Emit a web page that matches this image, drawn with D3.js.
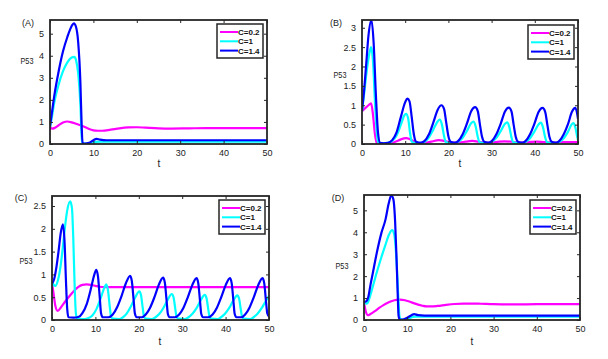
<!DOCTYPE html>
<html>
<head>
<meta charset="utf-8">
<script src="https://cdn.jsdelivr.net/npm/d3@7"></script>
<style>
  body { margin: 0; background: #fff; }
  svg { font-family: "Liberation Sans", Arial, sans-serif; }
  .tick-label { font-size: 9px; fill: #222; }
  .axis-title { font-size: 10px; fill: #222; }
  .legend-text { font-size: 8px; font-weight: bold; fill: #111; }
</style>
</head>
<body>
<svg id="chart" width="608" height="359"></svg>
<script>
// Chart values
const xTicks = [0, 10, 20, 30, 40, 50];
const legendLabels = ['C=0.2', 'C=1', 'C=1.4'];
const panelNames = ['(A)', '(B)', '(C)', '(D)'];
const yTicksA = [0, 1, 2, 3, 4, 5];
const yTicksB = [0, 0.5, 1, 1.5, 2, 2.5, 3];
const yTicksC = [0, 0.5, 1, 1.5, 2, 2.5];
const yTicksD = [0, 1, 2, 3, 4, 5];
const yMaxes = [5.62, 3.2, 2.72, 5.7];

// Panel A
const aMagenta = [[0,0.78],[0.5,0.7],[1,0.72],[2,0.85],[3,0.97],[4,1.02],[5,0.98],[6,0.92],[7,0.85],[8,0.77],[9,0.68],[10,0.62],[11,0.6],[12,0.6],[14,0.65],[16,0.71],[18,0.75],[20,0.76],[22,0.74],[25,0.71],[28,0.7],[32,0.71],[36,0.72],[40,0.72],[50,0.72]];
const aCyan = [[0,0.75],[0.5,1.3],[1,1.9],[2,2.7],[3,3.3],[4,3.7],[5,3.92],[5.6,3.95],[6,3.8],[6.5,3.2],[7,1.8],[7.3,0.3],[7.5,0.02],[8.5,0.02],[9.5,0.06],[10.5,0.1],[12,0.11],[50,0.11]];
const aBlue = [[0,0.8],[0.5,1.5],[1,2.2],[2,3.3],[3,4.2],[4,4.85],[5,5.35],[5.5,5.47],[6,5.3],[6.5,4.6],[7,2.8],[7.3,0.8],[7.5,0.05],[8,0.02],[9,0.05],[10,0.17],[10.7,0.23],[11.5,0.2],[13,0.17],[50,0.17]];

// Panel B
const bMagenta = [[0,0.85],[0.5,0.9],[1,0.95],[1.5,1.0],[2.1,1.05],[2.5,0.8],[3,0.25],[3.4,0.03],[4,0.01],[6,0.01],[7,0.03],[8,0.07],[9,0.12],[10.2,0.15],[11,0.13],[12,0.07],[13,0.03],[14.5,0.03],[16,0.06],[17.8,0.1],[19,0.08],[20.5,0.04],[22.5,0.04],[24,0.06],[25.5,0.08],[27,0.06],[28.5,0.04],[31,0.05],[33,0.07],[34.5,0.06],[36,0.04],[38.5,0.05],[40.5,0.06],[42,0.05],[44,0.04],[46,0.05],[48,0.05],[50,0.05]];
const bCyan = [[0,0.85],[0.5,1.3],[1,1.8],[1.5,2.2],[2.1,2.5],[2.5,2.2],[3,1.1],[3.5,0.2],[3.9,0.02],[5,0.02],[6,0.03],[7,0.08],[8,0.22],[9,0.5],[9.8,0.74],[10.2,0.78],[10.7,0.65],[11.1,0.3],[11.5,0.07],[12,0.03],[13.5,0.03],
  [14.5,0.06],[15.5,0.17],[16.5,0.37],[17.5,0.58],[18,0.63],[18.5,0.5],[19,0.2],[19.4,0.05],[20,0.03],[21.5,0.03],
  [22.3,0.06],[23.3,0.16],[24.3,0.34],[25.3,0.54],[25.8,0.58],[26.3,0.46],[26.8,0.18],[27.2,0.05],[27.8,0.03],[29.3,0.03],
  [30.1,0.06],[31.1,0.16],[32.1,0.33],[33.1,0.52],[33.6,0.56],[34.1,0.44],[34.6,0.17],[35,0.05],[35.6,0.03],[37.1,0.03],
  [37.9,0.06],[38.9,0.15],[39.9,0.32],[40.9,0.51],[41.4,0.55],[41.9,0.43],[42.4,0.17],[42.8,0.05],[43.4,0.03],[44.9,0.03],
  [45.7,0.06],[46.7,0.15],[47.7,0.32],[48.5,0.5],[48.9,0.54],[49.4,0.42],[49.8,0.2],[50,0.1]];
const bBlue = [[0,0.85],[0.5,1.4],[1,2.1],[1.5,2.8],[2.2,3.2],[2.7,2.6],[3.2,1.3],[3.7,0.3],[4.2,0.03],[5,0.02],[6,0.03],[7,0.1],[8,0.3],[9,0.7],[10,1.08],[10.5,1.17],[11,1.1],[11.5,0.7],[12,0.25],[12.5,0.06],[13.5,0.03],
  [14.5,0.08],[15.5,0.25],[16.5,0.55],[17.5,0.88],[18.4,1.0],[19,0.9],[19.5,0.55],[20,0.2],[20.5,0.06],[21.5,0.03],
  [22.3,0.08],[23.3,0.25],[24.3,0.53],[25.3,0.85],[26.2,0.95],[26.8,0.85],[27.3,0.5],[27.8,0.18],[28.3,0.06],[29.3,0.03],
  [30.1,0.08],[31.1,0.25],[32.1,0.52],[33.1,0.84],[34,0.94],[34.6,0.84],[35.1,0.5],[35.6,0.18],[36.1,0.06],[37.1,0.03],
  [37.9,0.08],[38.9,0.25],[39.9,0.52],[40.9,0.83],[41.8,0.93],[42.4,0.83],[42.9,0.5],[43.4,0.18],[43.9,0.06],[44.9,0.03],
  [45.7,0.08],[46.7,0.25],[47.7,0.52],[48.6,0.83],[49.4,0.93],[50,0.65]];

// Panel C
const cMagenta = [[0,0.82],[0.4,0.55],[0.8,0.3],[1.3,0.2],[2,0.27],[3,0.4],[4,0.52],[5,0.63],[6,0.72],[7,0.77],[8,0.78],[9,0.77],[10,0.75],[11,0.73],[12,0.72],[15,0.72],[50,0.72]];
const cCyan = [[0,0.82],[0.4,0.77],[0.8,0.75],[1.3,0.85],[2,1.2],[2.5,1.6],[3,2.05],[3.5,2.4],[4.2,2.6],[4.6,2.45],[4.9,1.8],[5.2,0.8],[5.5,0.15],[5.8,0.03],[7,0.02],[8.3,0.04],[9.3,0.1],[10.3,0.25],[11.3,0.5],[12.1,0.72],[12.5,0.78],[12.9,0.65],[13.3,0.3],[13.6,0.08],[14,0.03],[15.5,0.02],
  [16.2,0.05],[17.2,0.14],[18.2,0.3],[19.2,0.5],[20.1,0.63],[20.5,0.55],[20.9,0.27],[21.2,0.08],[21.6,0.03],[23,0.02],
  [23.7,0.05],[24.7,0.13],[25.7,0.27],[26.7,0.45],[27.6,0.57],[28,0.5],[28.4,0.25],[28.7,0.07],[29.1,0.03],[30.6,0.02],
  [31.3,0.05],[32.3,0.13],[33.3,0.26],[34.3,0.44],[35.2,0.55],[35.6,0.48],[36,0.24],[36.3,0.07],[36.7,0.03],[38.2,0.02],
  [38.8,0.05],[39.8,0.13],[40.8,0.26],[41.8,0.43],[42.7,0.54],[43.1,0.47],[43.5,0.23],[43.8,0.07],[44.2,0.03],[45.7,0.02],
  [46.3,0.05],[47.3,0.13],[48.3,0.26],[49.3,0.42],[50,0.53]];
const cBlue = [[0,0.8],[0.5,0.9],[1,1.15],[1.5,1.5],[2,1.9],[2.5,2.1],[2.9,1.7],[3.2,0.9],[3.5,0.25],[3.8,0.06],[5,0.05],[6.2,0.07],[7,0.15],[8,0.35],[9,0.7],[9.7,0.98],[10.2,1.1],[10.6,0.95],[11,0.5],[11.3,0.15],[11.7,0.06],[13,0.06],
  [14,0.12],[15,0.28],[16,0.52],[17,0.8],[18,0.97],[18.4,0.85],[18.8,0.45],[19.1,0.14],[19.5,0.06],[20.7,0.06],
  [21.6,0.12],[22.6,0.27],[23.6,0.5],[24.6,0.77],[25.6,0.93],[26,0.82],[26.4,0.43],[26.7,0.13],[27.1,0.06],[28.3,0.06],
  [29.3,0.12],[30.3,0.27],[31.3,0.5],[32.3,0.76],[33.3,0.92],[33.7,0.81],[34.1,0.42],[34.4,0.13],[34.8,0.06],[36,0.06],
  [37,0.12],[38,0.27],[39,0.5],[40,0.76],[41,0.92],[41.4,0.81],[41.8,0.42],[42.1,0.13],[42.5,0.06],[43.7,0.06],
  [44.5,0.12],[45.5,0.27],[46.5,0.5],[47.5,0.76],[48.5,0.92],[48.9,0.81],[49.3,0.42],[49.6,0.15],[50,0.08]];

// Panel D
const dMagenta = [[0,0.8],[0.4,0.4],[0.9,0.22],[1.5,0.27],[2.5,0.4],[3.5,0.55],[4.5,0.68],[5.5,0.79],[6.5,0.87],[7.5,0.92],[8.3,0.93],[9.5,0.9],[10.5,0.84],[11.5,0.77],[12.5,0.7],[13.5,0.65],[14.5,0.62],[15.5,0.62],[17,0.64],[19,0.69],[21,0.73],[23,0.75],[25,0.75],[27,0.74],[30,0.72],[35,0.71],[40,0.72],[50,0.72]];
const dCyan = [[0,0.82],[0.5,0.75],[0.9,0.8],[1.5,1.15],[2,1.5],[3,2.2],[4,2.85],[5,3.45],[5.8,3.9],[6.5,4.1],[7,3.9],[7.5,2.8],[7.9,1.2],[8.2,0.2],[8.5,0.03],[9.5,0.02],[10.5,0.08],[11.3,0.14],[12,0.15],[50,0.15]];
const dBlue = [[0,0.82],[0.5,0.85],[1,1.05],[1.5,1.6],[2,2.1],[3,3.1],[4,3.95],[5,4.6],[5.7,5.3],[6.3,5.68],[6.8,5.5],[7.2,4.5],[7.5,3.0],[7.8,1.2],[8.0,0.2],[8.2,0.03],[9,0.02],[10,0.1],[11,0.22],[11.6,0.27],[12.5,0.22],[14,0.2],[50,0.2]];

const colors = ['#ff00ff', '#00ffff', '#0000ff'];

// Layout of the four panels (pixel boxes)
const panels = [
    { box: [50, 20, 267, 144], yTicks: yTicksA, series: [aMagenta, aCyan, aBlue],
      legend: [217, 24], ylab: [27, 64], xlab: [159, 167], name: [28, 26] },
    { box: [362, 20, 578, 144], yTicks: yTicksB, series: [bMagenta, bCyan, bBlue],
      legend: [528, 25], ylab: [340, 78], xlab: [460, 167], name: [336, 26] },
    { box: [52, 196, 269, 320], yTicks: yTicksC, series: [cMagenta, cCyan, cBlue],
      legend: [219, 200], ylab: [26, 264], xlab: [160, 345], name: [21, 201] },
    { box: [364, 195, 580, 320], yTicks: yTicksD, series: [dMagenta, dCyan, dBlue],
      legend: [530, 200], ylab: [342, 269], xlab: [472, 345], name: [338, 201] }
];

const svg = d3.select('#chart');

panels.forEach(function(p, i) {
    const [x0, y0, x1, y1] = p.box;
    const x = d3.scaleLinear().domain([0, 50]).range([x0, x1]);
    const y = d3.scaleLinear().domain([0, yMaxes[i]]).range([y1, y0]);
    const g = svg.append('g');

    // clip so thick lines stay inside the axes
    svg.append('clipPath').attr('id', 'clip' + i)
        .append('rect').attr('x', x0).attr('y', y0).attr('width', x1 - x0).attr('height', y1 - y0);

    const line = d3.line()
        .x(d => x(d[0]))
        .y(d => y(d[1]))
        .curve(d3.curveMonotoneX);

    g.append('g').attr('clip-path', `url(#clip${i})`)
        .selectAll('path')
        .data(p.series)
        .enter()
        .append('path')
        .attr('d', line)
        .attr('fill', 'none')
        .attr('stroke', (d, k) => colors[k])
        .attr('stroke-width', 2.2)
        .attr('stroke-linejoin', 'round');

    // axes, ticks pointing inward
    const axisStyle = function(sel) {
        sel.select('.domain').remove();
        sel.selectAll('.tick line').attr('stroke', '#262626').attr('stroke-width', 1);
        sel.selectAll('.tick text').attr('class', 'tick-label').attr('fill', '#222');
    };
    g.append('g').attr('transform', `translate(0,${y1})`)
        .call(d3.axisBottom(x).tickValues(xTicks).tickSizeInner(-3).tickSizeOuter(0).tickPadding(6))
        .call(axisStyle);
    g.append('g').attr('transform', `translate(0,${y0})`)
        .call(d3.axisTop(x).tickValues(xTicks).tickSizeInner(-3).tickSizeOuter(0).tickFormat(''))
        .call(axisStyle);
    g.append('g').attr('transform', `translate(${x0},0)`)
        .call(d3.axisLeft(y).tickValues(p.yTicks).tickSizeInner(-3).tickSizeOuter(0).tickPadding(6).tickFormat(d3.format('~g')))
        .call(axisStyle);
    g.append('g').attr('transform', `translate(${x1},0)`)
        .call(d3.axisRight(y).tickValues(p.yTicks).tickSizeInner(-3).tickSizeOuter(0).tickFormat(''))
        .call(axisStyle);
    g.selectAll('.tick text').style('font-size', '9px');

    // box frame
    g.append('rect')
        .attr('x', x0).attr('y', y0)
        .attr('width', x1 - x0).attr('height', y1 - y0)
        .attr('fill', 'none')
        .attr('stroke', '#262626')
        .attr('stroke-width', 1.8);

    // labels
    g.append('text').attr('class', 'axis-title')
        .attr('x', p.ylab[0]).attr('y', p.ylab[1])
        .attr('text-anchor', 'middle')
        .style('font-size', '9.5px')
        .attr('textLength', 13).attr('lengthAdjust', 'spacingAndGlyphs')
        .text('P53');
    g.append('text').attr('class', 'axis-title')
        .attr('x', p.xlab[0]).attr('y', p.xlab[1])
        .attr('text-anchor', 'middle').text('t');
    g.append('text').attr('class', 'axis-title')
        .attr('x', p.name[0]).attr('y', p.name[1])
        .attr('text-anchor', 'middle').style('font-size', '9px').text(panelNames[i]);

    // legend
    const [lx, ly] = p.legend;
    const lg = g.append('g').attr('transform', `translate(${lx},${ly})`);
    lg.append('rect')
        .attr('width', 46).attr('height', 34)
        .attr('fill', '#fff')
        .attr('stroke', '#262626')
        .attr('stroke-width', 1.5);
    legendLabels.forEach(function(label, k) {
        const ry = 8 + k * 9.3;
        lg.append('line')
            .attr('x1', 3).attr('x2', 21)
            .attr('y1', ry).attr('y2', ry)
            .attr('stroke', colors[k])
            .attr('stroke-width', 2);
        lg.append('text').attr('class', 'legend-text')
            .attr('x', 21).attr('y', ry + 3)
            .text(label);
    });
});
</script>
</body>
</html>
